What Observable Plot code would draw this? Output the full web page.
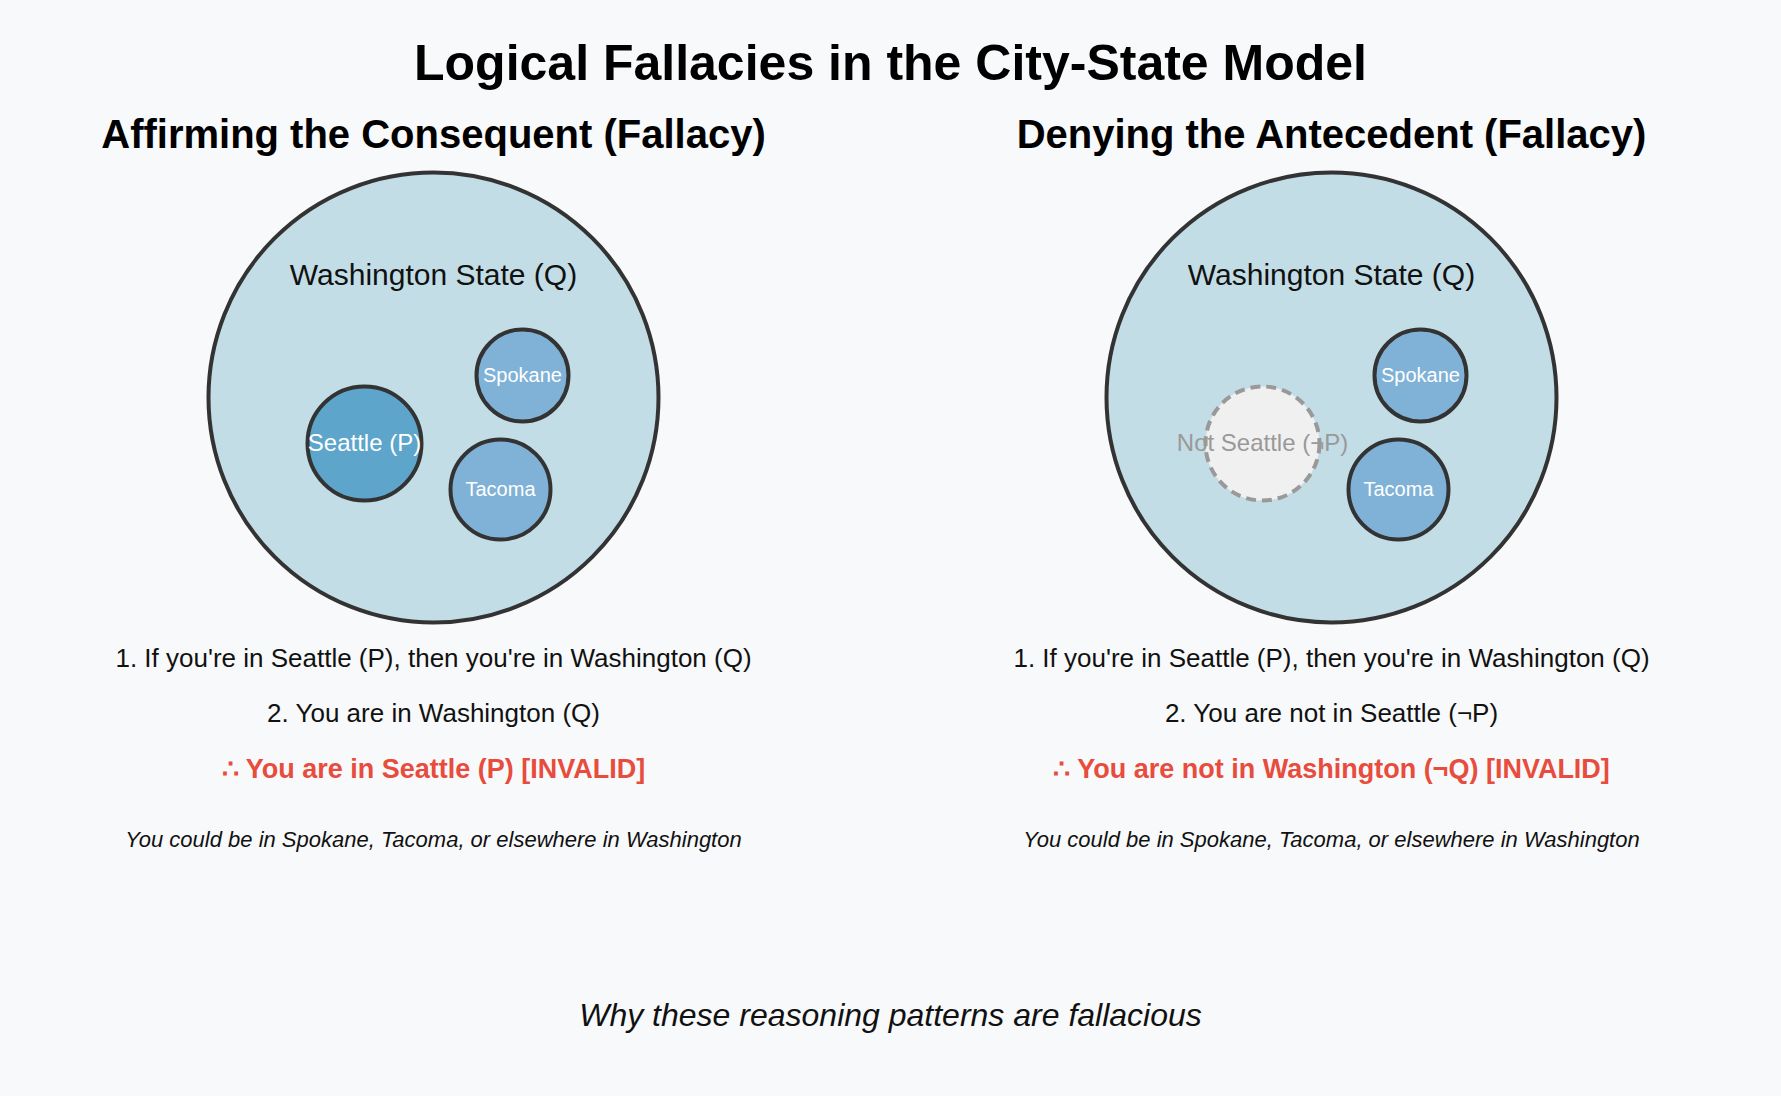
<!DOCTYPE html>
<html><head><meta charset="utf-8">
<script src="https://cdn.jsdelivr.net/npm/d3@7"></script>
<script src="https://cdn.jsdelivr.net/npm/@observablehq/plot@0.6"></script>
<style>body{margin:0;background:#f8f9fa;font-family:"Liberation Sans",Arial,sans-serif}</style>
</head><body><div id="chart"></div>
<script>
const panels = ["Affirming the Consequent (Fallacy)", "Denying the Antecedent (Fallacy)"];
const panelX = [433, 1331];
const cities = ["Seattle (P)", "Spokane", "Tacoma"];
const rightFirst = "Not Seattle (¬P)";
const premise1 = ["1. If you're in Seattle (P), then you're in Washington (Q)", "1. If you're in Seattle (P), then you're in Washington (Q)"];
const premise2 = ["2. You are in Washington (Q)", "2. You are not in Seattle (¬P)"];
const conclusion = ["∴ You are in Seattle (P) [INVALID]", "∴ You are not in Washington (¬Q) [INVALID]"];
const note = "You could be in Spokane, Tacoma, or elsewhere in Washington";

// city offsets relative to panel centre, radius
const cityDx = [-69, 89, 67], cityY = [443, 375, 489], cityR = [57, 46, 50];

const big = panelX.map(x => ({x, y: 397, r: 225}));
const small = [];
panelX.forEach((px, p) => cities.forEach((c, i) => small.push({
  x: px + cityDx[i], y: cityY[i], r: cityR[i], p, i,
  label: (p === 1 && i === 0) ? rightFirst : c
})));
const texts = [];
panelX.forEach((x, p) => {
  texts.push({x, y: 135, t: panels[p], s: 40, w: "bold", c: "#000"});
  texts.push({x, y: 275, t: "Washington State (Q)", s: 30, w: "normal", c: "#111"});
  texts.push({x, y: 658, t: premise1[p], s: 26, w: "normal", c: "#111"});
  texts.push({x, y: 713, t: premise2[p], s: 26, w: "normal", c: "#111"});
  texts.push({x, y: 769, t: conclusion[p], s: 27, w: "bold", c: "#e74c3c"});
  texts.push({x, y: 839, t: note, s: 22, w: "normal", c: "#111", i: true});
});
texts.push({x: 890, y: 63, t: "Logical Fallacies in the City-State Model", s: 50, w: "bold", c: "#000"});
texts.push({x: 890, y: 1015, t: "Why these reasoning patterns are fallacious", s: 32, w: "normal", c: "#111", i: true});

const chart = Plot.plot({
  width: 1781, height: 1096, margin: 0,
  style: {background: "#f8f9fa", fontFamily: "Liberation Sans, Arial, sans-serif"},
  x: {domain: [0, 1781], axis: null},
  y: {domain: [0, 1096], range: [0, 1096], axis: null},
  r: {type: "identity"},
  marks: [
    Plot.dot(big, {x: "x", y: "y", r: "r", fill: "#c3dde6", stroke: "#333", strokeWidth: 4}),
    Plot.dot(small.filter(d => !(d.p === 1 && d.i === 0)), {x: "x", y: "y", r: "r",
      fill: d => d.i === 0 ? "#5ea5cb" : "#7fb2d6", stroke: "#333", strokeWidth: 4}),
    Plot.dot(small.filter(d => d.p === 1 && d.i === 0), {x: "x", y: "y", r: "r",
      fill: "#f0f0f0", stroke: "#999", strokeWidth: 4, strokeDasharray: "10,6"}),
    Plot.text(small, {x: "x", y: "y", text: "label",
      fontSize: d => d.i === 0 ? 24 : 20,
      fill: d => (d.p === 1 && d.i === 0) ? "#999" : "#fff"}),
    ...texts.map(d => Plot.text([d], {x: "x", y: "y", text: "t", fontSize: d.s, fontWeight: d.w,
      fill: d.c, fontStyle: d.i ? "italic" : "normal"}))
  ]
});
document.getElementById("chart").append(chart);
</script></body></html>
